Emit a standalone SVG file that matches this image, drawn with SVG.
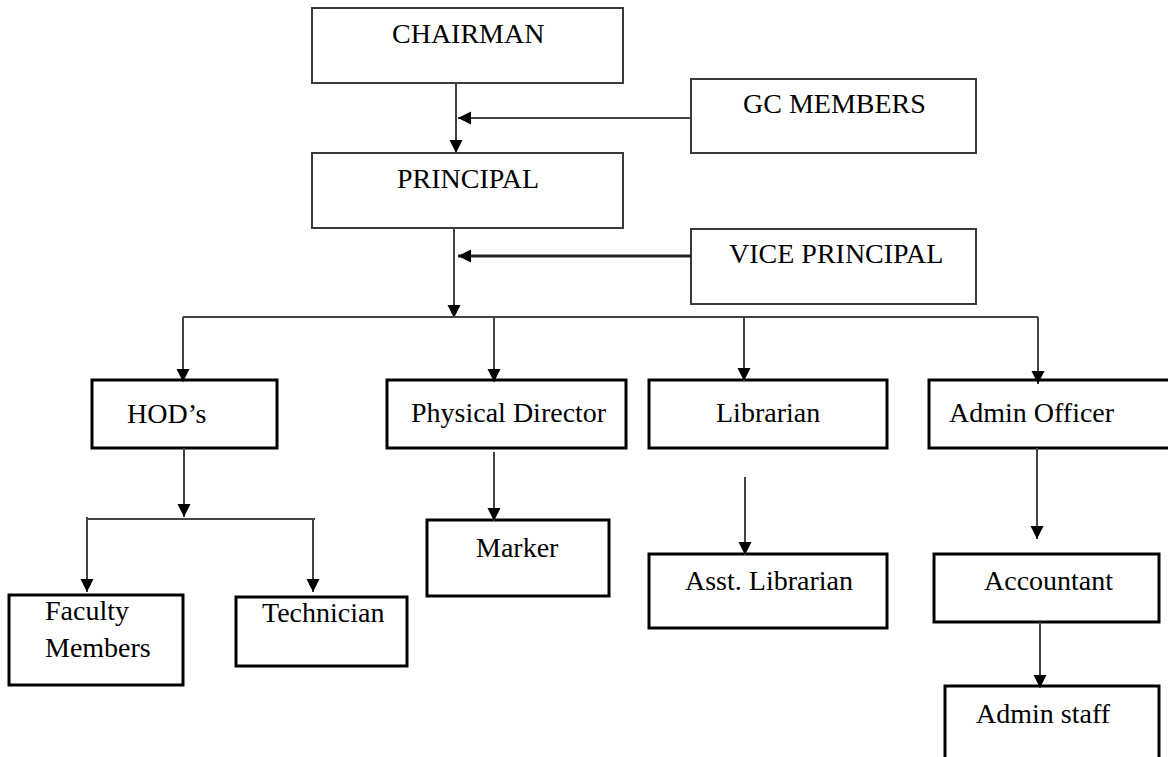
<svg xmlns="http://www.w3.org/2000/svg" width="1168" height="757" viewBox="0 0 1168 757">
<style>
  .top rect { fill: #fff; stroke: #3a3a3a; stroke-width: 2; }
  .box rect { fill: #fff; stroke: #000; stroke-width: 3; }
  text { font-family: "Liberation Serif", "Times New Roman", serif; font-size: 28px; fill: #000; }
  .conn line, .conn path { stroke: #444; stroke-width: 2; fill: none; }
  .conn .arr { marker-end: url(#ah); }
  .conn .thick { stroke: #222; stroke-width: 3; }
</style>
<defs>
  <marker id="ah" markerUnits="userSpaceOnUse" markerWidth="14" markerHeight="14" refX="13" refY="6.5" orient="auto">
    <path d="M0,0 L13,6.5 L0,13 z" fill="#000"/>
  </marker>
</defs>
<rect width="1168" height="757" fill="#fff"/>

<g id="chairman" class="top"><rect x="312" y="8" width="311" height="75"/><text x="392" y="43">CHAIRMAN</text></g>
<g id="gc-members" class="top"><rect x="691" y="79" width="285" height="74"/><text x="743" y="113">GC MEMBERS</text></g>
<g id="principal" class="top"><rect x="312" y="153" width="311" height="75"/><text x="397" y="188">PRINCIPAL</text></g>
<g id="vice-principal" class="top"><rect x="691" y="229" width="285" height="75"/><text x="729" y="263">VICE PRINCIPAL</text></g>

<g id="hods" class="box"><rect x="92" y="380" width="185" height="68"/><text x="127" y="423">HOD’s</text></g>
<g id="physical-director" class="box"><rect x="387" y="380" width="239" height="68"/><text x="411" y="422">Physical Director</text></g>
<g id="librarian" class="box"><rect x="649" y="380" width="238" height="68"/><text x="716" y="422">Librarian</text></g>
<g id="admin-officer" class="box"><rect x="929" y="380" width="245" height="68"/><text x="949" y="422">Admin Officer</text></g>

<g id="faculty-members" class="box"><rect x="9" y="595" width="174" height="90"/><text x="45" y="620">Faculty</text><text x="45" y="657">Members</text></g>
<g id="technician" class="box"><rect x="236" y="597" width="171" height="69"/><text x="262" y="622">Technician</text></g>
<g id="marker" class="box"><rect x="427" y="520" width="182" height="76"/><text x="476" y="557">Marker</text></g>
<g id="asst-librarian" class="box"><rect x="649" y="554" width="238" height="74"/><text x="685" y="590">Asst. Librarian</text></g>
<g id="accountant" class="box"><rect x="934" y="554" width="225" height="68"/><text x="984" y="590">Accountant</text></g>
<g id="admin-staff" class="box"><rect x="945" y="686" width="214" height="90"/><text x="976" y="723">Admin staff</text></g>

<g id="connectors" class="conn">
  <line class="arr" x1="456" y1="83" x2="456" y2="153"/>
  <line class="arr" x1="691" y1="118" x2="458" y2="118"/>
  <line class="arr" x1="454" y1="228" x2="454" y2="318"/>
  <line class="arr thick" x1="691" y1="256" x2="458" y2="256"/>
  <path d="M183,317 H1038"/>
  <line class="arr" x1="183" y1="317" x2="183" y2="382"/>
  <line class="arr" x1="494" y1="317" x2="494" y2="382"/>
  <line class="arr" x1="744" y1="317" x2="744" y2="381"/>
  <line class="arr" x1="1038" y1="317" x2="1038" y2="384"/>
  <line class="arr" x1="184" y1="448" x2="184" y2="517"/>
  <path d="M87,519 H315"/>
  <line class="arr" x1="87" y1="517" x2="87" y2="592"/>
  <line class="arr" x1="313" y1="519" x2="313" y2="592"/>
  <line class="arr" x1="494" y1="452" x2="494" y2="521"/>
  <line class="arr" x1="745" y1="477" x2="745" y2="555"/>
  <line class="arr" x1="1037" y1="448" x2="1037" y2="539"/>
  <line class="arr" x1="1040" y1="622" x2="1040" y2="688"/>
</g>
</svg>
